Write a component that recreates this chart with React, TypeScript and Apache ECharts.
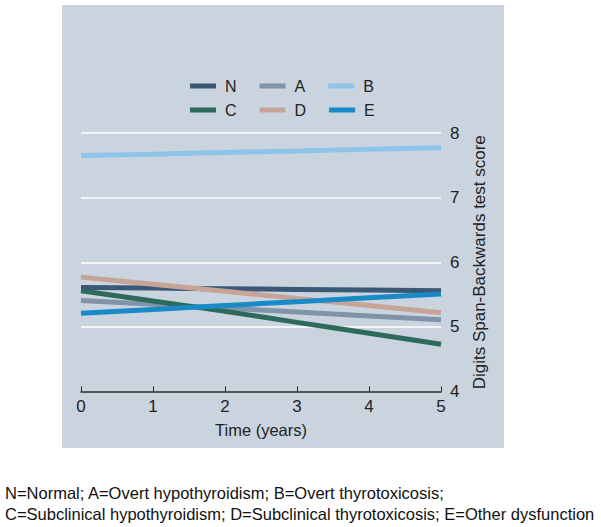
import React, { useEffect, useRef } from "react";
import * as echarts from "echarts";

const years = [0, 1, 2, 3, 4, 5];
const seriesNames = ["N", "A", "B", "C", "D", "E"];
const valuesN = [5.61, 5.6, 5.59, 5.58, 5.57, 5.56];
const valuesA = [5.41, 5.35, 5.29, 5.23, 5.17, 5.11];
const valuesB = [7.65, 7.67, 7.7, 7.72, 7.75, 7.77];
const valuesC = [5.56, 5.4, 5.24, 5.07, 4.9, 4.73];
const valuesD = [5.77, 5.66, 5.55, 5.44, 5.33, 5.22];
const valuesE = [5.21, 5.27, 5.33, 5.39, 5.45, 5.51];
const seriesColors = ["#3b5876", "#8093a8", "#8ec3ea", "#2e6a5c", "#c7a498", "#1a8ac6"];
const footnote1 = "N=Normal; A=Overt hypothyroidism; B=Overt thyrotoxicosis;";
const footnote2 = "C=Subclinical hypothyroidism; D=Subclinical thyrotoxicosis; E=Other dysfunction";

const FONT = "'Liberation Sans', Arial, sans-serif";

export default function App() {
  const ref = useRef<HTMLDivElement>(null);
  useEffect(() => {
    document.body.style.margin = "0";
    if (!ref.current) return;
    const chart = echarts.init(ref.current, null, { renderer: "svg" });
    const allValues = [valuesN, valuesA, valuesB, valuesC, valuesD, valuesE];
    const legendCommon = {
      itemWidth: 26,
      itemHeight: 5,
      itemGap: 23,
      icon: "rect",
      textStyle: { fontSize: 16, color: "#222", fontFamily: FONT, padding: [0, 0, 0, 4] },
      orient: "horizontal" as const,
      padding: 0,
    };
    chart.setOption({
      animation: false,
      textStyle: { fontFamily: FONT },
      graphic: [
        {
          type: "rect",
          z: -10,
          shape: { x: 62, y: 5, width: 442, height: 443 },
          style: { fill: "#c9d4df" },
          silent: true,
        },
        {
          type: "text",
          left: 5,
          top: 484,
          style: { text: footnote1, fontSize: 16.5, fill: "#111", fontFamily: FONT },
        },
        {
          type: "text",
          left: 5,
          top: 505,
          style: { text: footnote2, fontSize: 16.5, fill: "#111", fontFamily: FONT },
        },
      ],
      legend: [
        { ...legendCommon, left: 190, top: 78, data: ["N", "A", "B"] },
        { ...legendCommon, left: 190, top: 102, data: ["C", "D", "E"] },
      ],
      grid: { left: 81, right: 160, top: 133, bottom: 135.5 },
      xAxis: {
        type: "value",
        min: 0,
        max: 5,
        interval: 1,
        name: "Time (years)",
        nameLocation: "middle",
        nameGap: 30,
        nameTextStyle: { fontSize: 16.5, color: "#222" },
        axisLine: { show: true, lineStyle: { color: "#222", width: 1.5 } },
        axisTick: { show: true, inside: true, length: 5, lineStyle: { color: "#222" } },
        axisLabel: { fontSize: 17, color: "#222", margin: 6 },
        splitLine: { show: false },
      },
      yAxis: {
        type: "value",
        position: "right",
        min: 4,
        max: 8,
        interval: 1,
        name: "Digits Span-Backwards test score",
        nameLocation: "middle",
        nameRotate: 90,
        nameGap: 30,
        nameTextStyle: { fontSize: 17, color: "#222" },
        axisLine: { show: false },
        axisTick: { show: false },
        axisLabel: { fontSize: 17, color: "#222", margin: 9 },
        splitLine: {
          show: true,
          lineStyle: { color: "#ffffff", width: 1.5 },
        },
      },
      series: seriesNames.map((name, i) => ({
        name,
        type: "line",
        data: years.map((y, j) => [y, allValues[i][j]]),
        showSymbol: false,
        symbol: "none",
        smooth: true,
        lineStyle: { width: 5, color: seriesColors[i] },
        itemStyle: { color: seriesColors[i] },
      })),
    });
    return () => chart.dispose();
  }, []);
  return <div ref={ref} style={{ width: 601, height: 527 }} />;
}
